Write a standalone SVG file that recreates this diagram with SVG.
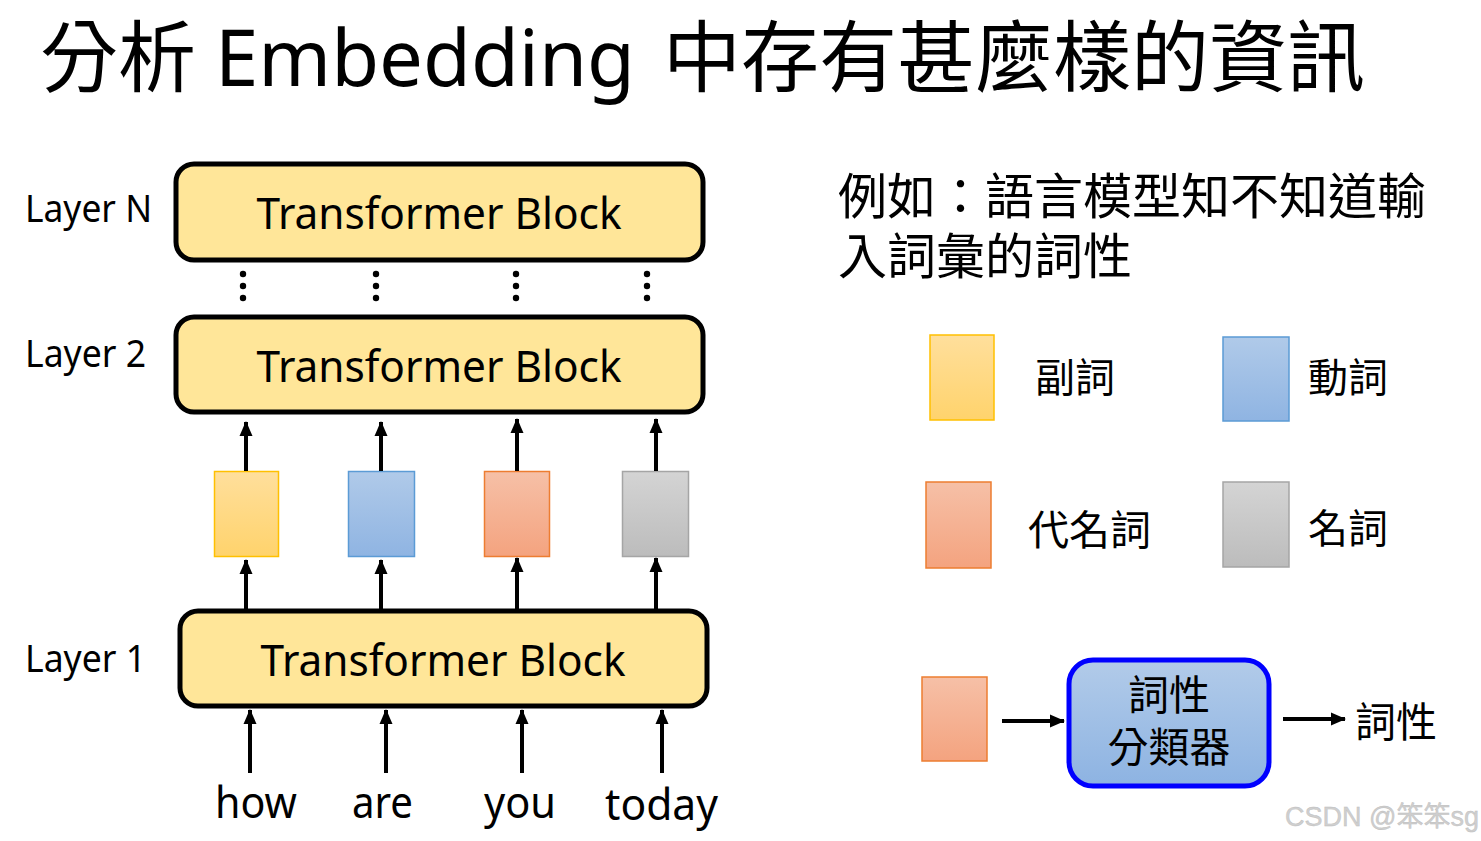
<svg xmlns="http://www.w3.org/2000/svg" width="1481" height="841" viewBox="0 0 1481 841">
<defs>
<style>
.cjk{font-family:"Noto Sans CJK TC","Noto Sans CJK SC",sans-serif;fill:#000}
.lat{font-family:"Noto Sans","Open Sans",sans-serif;fill:#000}
.block{fill:#FFE699;stroke:#000;stroke-width:5}
.conn{stroke:#000;stroke-width:4;fill:none;marker-end:url(#ah)}
.dot{fill:#000}
</style>
<marker id="ah" markerUnits="userSpaceOnUse" markerWidth="16" markerHeight="16" viewBox="0 0 16 16" refX="14" refY="8" orient="auto">
<path d="M0,1.5 L15,8 L0,14.5 Z" fill="#000"/>
</marker>
<linearGradient id="gY" x1="0" y1="0" x2="0" y2="1"><stop offset="0" stop-color="#FFDF9C"/><stop offset="1" stop-color="#FFD36C"/></linearGradient>
<linearGradient id="gB" x1="0" y1="0" x2="0" y2="1"><stop offset="0" stop-color="#B0CAE9"/><stop offset="1" stop-color="#8FB4E2"/></linearGradient>
<linearGradient id="gO" x1="0" y1="0" x2="0" y2="1"><stop offset="0" stop-color="#F6C0A7"/><stop offset="1" stop-color="#F4A37F"/></linearGradient>
<linearGradient id="gG" x1="0" y1="0" x2="0" y2="1"><stop offset="0" stop-color="#D4D4D4"/><stop offset="1" stop-color="#BCBCBC"/></linearGradient>
<linearGradient id="gC" x1="0" y1="0" x2="0" y2="1"><stop offset="0" stop-color="#B2CBE9"/><stop offset="1" stop-color="#8DB3E2"/></linearGradient>
</defs>
<rect width="1481" height="841" fill="#fff"/>

<g id="title">
<text class="cjk" font-size="78" y="86"><tspan x="40">分析</tspan><tspan class="lat" x="215" textLength="420" lengthAdjust="spacingAndGlyphs" style="font-family:'Noto Sans','Open Sans',sans-serif">Embedding</tspan><tspan x="663">中存有甚麼樣的資訊</tspan></text>
</g>

<g id="layer-labels">
<text class="lat" font-size="38" x="25" y="222" textLength="127" lengthAdjust="spacingAndGlyphs">Layer N</text>
<text class="lat" font-size="38" x="25" y="367" textLength="121" lengthAdjust="spacingAndGlyphs">Layer 2</text>
<text class="lat" font-size="38" x="25" y="672" textLength="121" lengthAdjust="spacingAndGlyphs">Layer 1</text>
</g>

<g id="blockN">
<rect class="block" x="176" y="164" width="527" height="96" rx="18"/>
<text class="lat" font-size="43" x="439" y="229" text-anchor="middle" textLength="365" lengthAdjust="spacingAndGlyphs">Transformer Block</text>
</g>
<g id="block2">
<rect class="block" x="176" y="317" width="527" height="95" rx="18"/>
<text class="lat" font-size="43" x="439" y="382" text-anchor="middle" textLength="365" lengthAdjust="spacingAndGlyphs">Transformer Block</text>
</g>
<g id="block1">
<rect class="block" x="180" y="611" width="527" height="95" rx="18"/>
<text class="lat" font-size="43" x="443" y="676" text-anchor="middle" textLength="365" lengthAdjust="spacingAndGlyphs">Transformer Block</text>
</g>

<g id="ellipses">
<circle class="dot" cx="243" cy="274" r="3.2"/><circle class="dot" cx="243" cy="286" r="3.2"/><circle class="dot" cx="243" cy="298" r="3.2"/>
<circle class="dot" cx="376" cy="274" r="3.2"/><circle class="dot" cx="376" cy="286" r="3.2"/><circle class="dot" cx="376" cy="298" r="3.2"/>
<circle class="dot" cx="516" cy="274" r="3.2"/><circle class="dot" cx="516" cy="286" r="3.2"/><circle class="dot" cx="516" cy="298" r="3.2"/>
<circle class="dot" cx="647" cy="274" r="3.2"/><circle class="dot" cx="647" cy="286" r="3.2"/><circle class="dot" cx="647" cy="298" r="3.2"/>
</g>

<g id="emb-how"><rect x="214.5" y="471.5" width="64" height="85" fill="url(#gY)" stroke="#FFC000" stroke-width="1.5"/></g>
<g id="emb-are"><rect x="348.5" y="471.5" width="66" height="85" fill="url(#gB)" stroke="#5B9BD5" stroke-width="1.5"/></g>
<g id="emb-you"><rect x="484.5" y="471.5" width="65" height="85" fill="url(#gO)" stroke="#ED7D31" stroke-width="1.5"/></g>
<g id="emb-today"><rect x="622.5" y="471.5" width="66" height="85" fill="url(#gG)" stroke="#A5A5A5" stroke-width="1.5"/></g>

<g id="words">
<text class="lat" font-size="44" x="215" y="818" textLength="82" lengthAdjust="spacingAndGlyphs">how</text>
<text class="lat" font-size="44" x="352" y="818" textLength="61" lengthAdjust="spacingAndGlyphs">are</text>
<text class="lat" font-size="44" x="484" y="818" textLength="72" lengthAdjust="spacingAndGlyphs">you</text>
<text class="lat" font-size="44" x="605" y="820" textLength="113" lengthAdjust="spacingAndGlyphs">today</text>
</g>

<g id="connectors">
<line class="conn" x1="250" y1="773" x2="250" y2="710"/>
<line class="conn" x1="386" y1="773" x2="386" y2="710"/>
<line class="conn" x1="522" y1="773" x2="522" y2="710"/>
<line class="conn" x1="662" y1="773" x2="662" y2="710"/>
<line class="conn" x1="246" y1="611" x2="246" y2="560"/>
<line class="conn" x1="381" y1="611" x2="381" y2="560"/>
<line class="conn" x1="517" y1="611" x2="517" y2="558"/>
<line class="conn" x1="656" y1="611" x2="656" y2="558"/>
<line class="conn" x1="246" y1="471" x2="246" y2="422"/>
<line class="conn" x1="381" y1="471" x2="381" y2="422"/>
<line class="conn" x1="517" y1="471" x2="517" y2="419"/>
<line class="conn" x1="656" y1="471" x2="656" y2="419"/>
<line class="conn" x1="1002" y1="721" x2="1064" y2="721"/>
<line class="conn" x1="1283" y1="719" x2="1345" y2="719"/>
</g>

<g id="example-text">
<text class="cjk" font-size="49" x="838" y="214">例如：語言模型知不知道輸</text>
<text class="cjk" font-size="49" x="838" y="274">入詞彙的詞性</text>
</g>

<g id="legend-adverb">
<rect x="930" y="335" width="64" height="85" fill="url(#gY)" stroke="#FFC000" stroke-width="1.5"/>
<text class="cjk" font-size="40" x="1035" y="392">副詞</text>
</g>
<g id="legend-verb">
<rect x="1223" y="337" width="66" height="84" fill="url(#gB)" stroke="#5B9BD5" stroke-width="1.5"/>
<text class="cjk" font-size="40" x="1308" y="392">動詞</text>
</g>
<g id="legend-pronoun">
<rect x="926" y="482" width="65" height="86" fill="url(#gO)" stroke="#ED7D31" stroke-width="1.5"/>
<text class="cjk" font-size="41" x="1028" y="545">代名詞</text>
</g>
<g id="legend-noun">
<rect x="1223" y="482" width="66" height="85" fill="url(#gG)" stroke="#A5A5A5" stroke-width="1.5"/>
<text class="cjk" font-size="40" x="1308" y="543">名詞</text>
</g>

<g id="input-vector">
<rect x="922" y="677" width="65" height="84" fill="url(#gO)" stroke="#ED7D31" stroke-width="1.5"/>
</g>
<g id="classifier">
<rect x="1069" y="660" width="200" height="126" rx="24" fill="url(#gC)" stroke="#0000FF" stroke-width="5"/>
<text class="cjk" font-size="41" x="1169" y="710" text-anchor="middle">詞性</text>
<text class="cjk" font-size="41" x="1169" y="762" text-anchor="middle">分類器</text>
</g>
<g id="output">
<text class="cjk" font-size="41" x="1355" y="737">詞性</text>
</g>

<g id="watermark">
<text font-family="'Liberation Sans','Noto Sans CJK SC',sans-serif" font-size="27" x="1285" y="826" fill="#cfcfcf" stroke="#bdbdbd" stroke-width="0.4">CSDN @笨笨sg</text>
</g>
</svg>
